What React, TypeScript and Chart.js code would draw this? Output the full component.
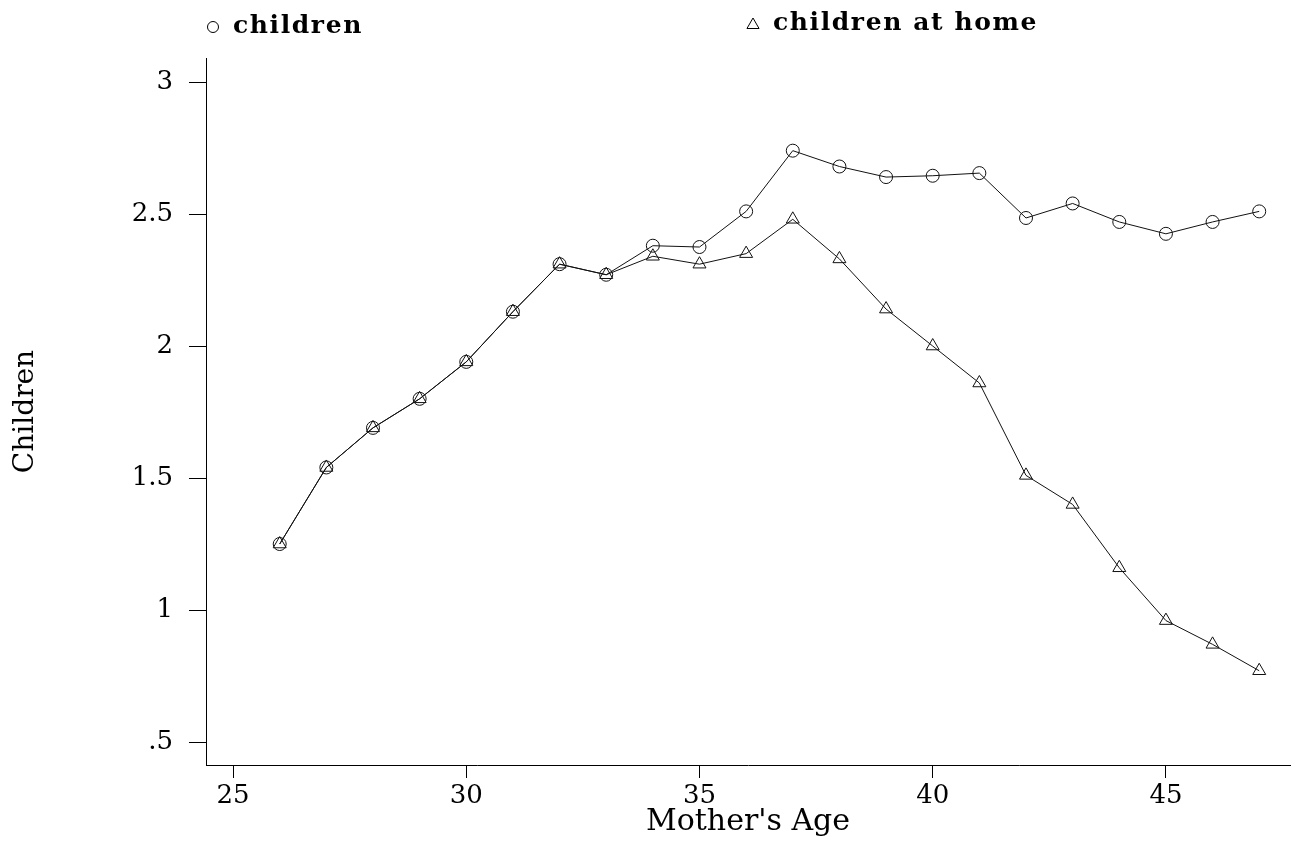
import React, { useEffect, useRef } from "react";
import { Chart, registerables } from "chart.js";

Chart.register(...registerables);

// Mother's age (years)
const AGES = [26, 27, 28, 29, 30, 31, 32, 33, 34, 35, 36, 37, 38, 39, 40, 41, 42, 43, 44, 45, 46, 47];

// Average number of children ever born
const CHILDREN = [
  1.25, 1.54, 1.69, 1.8, 1.94, 2.13, 2.31, 2.27, 2.38, 2.375, 2.51, 2.74, 2.68, 2.64, 2.645, 2.655,
  2.485, 2.54, 2.47, 2.425, 2.47, 2.51,
];

// Average number of children still living at home
const CHILDREN_AT_HOME = [
  1.25, 1.54, 1.69, 1.8, 1.94, 2.13, 2.31, 2.27, 2.34, 2.31, 2.35, 2.48, 2.33, 2.14, 2.0, 1.86,
  1.51, 1.4, 1.16, 0.96, 0.87, 0.77,
];

const X_TICKS = [25, 30, 35, 40, 45];
const Y_TICKS = [0.5, 1, 1.5, 2, 2.5, 3];

const SERIF = '"DejaVu Serif", "Liberation Serif", serif';

const toPoints = (ys: number[]) => AGES.map((x, i) => ({ x, y: ys[i] }));

// Legend drawn above the plot: a small marker followed by spaced bold text
const legendPlugin = {
  id: "topLegend",
  afterDraw(chart: any) {
    const ctx = chart.ctx as CanvasRenderingContext2D;
    ctx.save();
    ctx.strokeStyle = "#000";
    ctx.lineWidth = 1;
    ctx.fillStyle = "#000";

    // circle marker
    ctx.beginPath();
    ctx.arc(213, 27, 5.5, 0, Math.PI * 2);
    ctx.stroke();

    // triangle marker
    const tx = 753, ty = 25, r = 7;
    ctx.beginPath();
    ctx.moveTo(tx, ty - r);
    ctx.lineTo(tx + r * 0.866, ty + r * 0.5);
    ctx.lineTo(tx - r * 0.866, ty + r * 0.5);
    ctx.closePath();
    ctx.stroke();

    ctx.font = `bold 25px ${SERIF}`;
    (ctx as any).letterSpacing = "1.6px";
    ctx.textAlign = "left";
    ctx.textBaseline = "alphabetic";
    ctx.fillText("children", 233, 33);
    ctx.fillText("children at home", 773, 30);
    ctx.restore();
  },
};

export default function App() {
  const canvasRef = useRef<HTMLCanvasElement | null>(null);

  useEffect(() => {
    const canvas = canvasRef.current;
    if (!canvas) return;

    const chart = new Chart(canvas, {
      type: "scatter",
      data: {
        datasets: [
          {
            label: "children",
            data: toPoints(CHILDREN),
            showLine: true,
            borderColor: "#111",
            borderWidth: 1,
            pointStyle: "circle",
            pointRadius: 6.5,
            pointBorderWidth: 1,
            pointBorderColor: "#111",
            pointBackgroundColor: "rgba(0,0,0,0)",
            tension: 0,
          },
          {
            label: "children at home",
            data: toPoints(CHILDREN_AT_HOME),
            showLine: true,
            borderColor: "#111",
            borderWidth: 1,
            pointStyle: "triangle",
            pointRadius: 7.5,
            pointBorderWidth: 1,
            pointBorderColor: "#111",
            pointBackgroundColor: "rgba(0,0,0,0)",
            tension: 0,
          },
        ],
      },
      options: {
        animation: false,
        responsive: false,
        devicePixelRatio: 1,
        layout: { autoPadding: false, padding: { top: 58, right: 1, left: 0, bottom: 0 } },
        plugins: {
          legend: { display: false },
          tooltip: { enabled: false },
        },
        scales: {
          x: {
            type: "linear",
            position: "bottom",
            min: 24.42,
            max: 47.66,
            afterBuildTicks: (s: any) => {
              s.ticks = X_TICKS.map((v) => ({ value: v }));
            },
            afterFit: (s: any) => {
              s.height = 77;
              s.paddingLeft = 0;
              s.paddingRight = 0;
            },
            grid: {
              display: true,
              drawOnChartArea: false,
              drawTicks: true,
              tickLength: 13,
              color: "#000",
              lineWidth: 1,
            },
            border: { display: true, color: "#000", width: 1 },
            ticks: {
              color: "#000",
              font: { family: SERIF, size: 26 },
              padding: 3,
              maxRotation: 0,
              autoSkip: false,
              callback: (v: any) => String(v),
            },
            title: {
              display: true,
              text: "Mother's Age",
              color: "#000",
              font: { family: SERIF, size: 30 },
              padding: { top: 0, bottom: 2 },
            },
          },
          y: {
            type: "linear",
            position: "left",
            min: 0.413,
            max: 3.091,
            afterBuildTicks: (s: any) => {
              s.ticks = Y_TICKS.map((v) => ({ value: v }));
            },
            afterFit: (s: any) => {
              s.width = 206;
            },
            grid: {
              display: true,
              drawOnChartArea: false,
              drawTicks: true,
              tickLength: 17,
              color: "#000",
              lineWidth: 1,
            },
            border: { display: true, color: "#000", width: 1 },
            ticks: {
              color: "#000",
              font: { family: SERIF, size: 26 },
              padding: 16,
              autoSkip: false,
              callback: (v: any) => (v === 0.5 ? ".5" : String(v)),
            },
            title: {
              display: true,
              text: "Children",
              color: "#000",
              font: { family: SERIF, size: 28 },
              padding: { top: 9, bottom: 0 },
            },
          },
        },
      },
      plugins: [legendPlugin],
    });

    return () => chart.destroy();
  }, []);

  return (
    <div style={{ position: "absolute", left: 0, top: 0, width: 1291, height: 842, background: "#fff" }}>
      <canvas ref={canvasRef} width={1291} height={842} />
    </div>
  );
}
